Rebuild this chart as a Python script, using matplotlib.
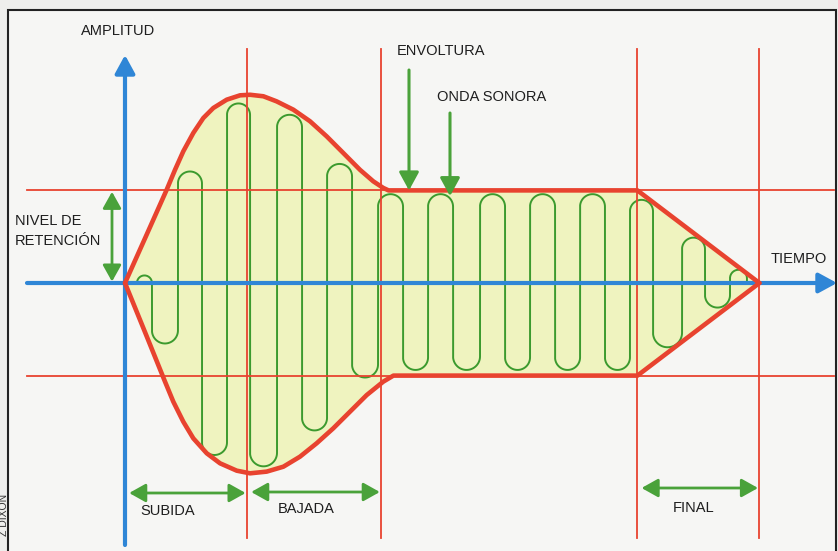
import numpy as np
import matplotlib.pyplot as plt
from matplotlib import font_manager
from matplotlib.patches import Rectangle

# phase limits of the envelope (time units): start, peak, end of decay, end of sustain, end of release
phase_t = [0, 10, 21, 42, 52]
sustain_level = 0.49

# upper / lower edge of the envelope during attack + decay
upper_t = [0, 1.7, 3.42, 4.10, 4.78, 5.60, 6.42, 7.24, 8.34, 9.43, 10.25, 11.34, 12.43, 13.80,
           15.16, 16.53, 17.89, 19.26, 20.35, 21.17, 21.6]
upper_a = [0, 0.245, 0.494, 0.599, 0.697, 0.794, 0.873, 0.926, 0.970, 0.993, 0.996, 0.988, 0.961,
           0.917, 0.856, 0.776, 0.688, 0.599, 0.538, 0.503, 0.49]
lower_t = [0, 1.64, 3.28, 3.96, 4.78, 5.60, 6.70, 7.79, 9.16, 10.25, 11.61, 12.98, 14.34, 15.71,
           17.07, 18.44, 19.81, 21.17, 22.0]
lower_a = [0, -0.26, -0.522, -0.628, -0.734, -0.822, -0.901, -0.954, -0.993, -1.007, -0.998, -0.972,
           -0.919, -0.848, -0.769, -0.681, -0.593, -0.522, -0.49]

# sound wave: x of every vertical stroke and the peak reached by each turn between two strokes
wave_x = [0.98, 2.21, 4.34, 6.31, 8.36, 10.25, 12.46, 14.51, 16.56, 18.61, 20.74, 22.79, 24.84,
          26.89, 29.1, 31.15, 33.2, 35.25, 37.3, 39.34, 41.39, 43.28, 45.66, 47.54, 49.59, 50.98]
wave_peak = [0.04, -0.32, 0.59, -0.91, 0.95, -0.97, 0.89, -0.78, 0.63, -0.50, 0.47, -0.46, 0.47,
             -0.46, 0.47, -0.46, 0.47, -0.46, 0.47, -0.46, 0.44, -0.34, 0.24, -0.13, 0.07]

# labelled spans under the chart (phase index from, phase index to, text)
spans = [(0, 1, 'SUBIDA'), (1, 2, 'BAJADA'), (3, 4, 'FINAL')]

W, H = 838, 551
X0, SX = 125, 12.2     # pixel of t=0, pixels per time unit
Y0, SY = 283, 189      # pixel of amplitude 0, pixels per amplitude unit

RED = '#e8432f'
BLUE = '#2f86d6'
GREEN_WAVE = '#3c9a2e'
GREEN = '#4aa23a'
FILL = '#eff3bf'
INK = '#1e1e1e'

names = {f.name for f in font_manager.fontManager.ttflist}
if 'Liberation Sans Narrow' in names:
    FONT, FS = 'Liberation Sans Narrow', 12.5
else:
    FONT, FS = 'Liberation Sans', 10.5


def t_of(x):
    return (x - X0) / SX


def a_of(y):
    return (Y0 - y) / SY


fig = plt.figure(figsize=(W / 100, H / 100), dpi=100)
fig.patch.set_facecolor('#eeeeec')
ax = fig.add_axes([0, 0, 1, 1])
ax.set_xlim(t_of(0), t_of(W))
ax.set_ylim(a_of(H), a_of(0))
ax.axis('off')

# frame of the illustration
ax.add_patch(Rectangle((8, -20), 828, H - 10 + 20, transform=None, clip_on=False,
                       facecolor='#f6f6f4', edgecolor='#222222', lw=1.5, zorder=0))

# envelope outline and fill
env_up_t = upper_t + [phase_t[3], phase_t[4]]
env_up_a = upper_a + [sustain_level, 0]
env_lo_t = lower_t + [phase_t[3], phase_t[4]]
env_lo_a = lower_a + [-sustain_level, 0]
ax.fill(env_up_t + env_lo_t[::-1], env_up_a + env_lo_a[::-1], color=FILL, lw=0, zorder=1)

# the sound wave, vertical strokes joined by round turns
wx, wy = [0], [0]
for i, p in enumerate(wave_peak):
    x0, x1 = wave_x[i], wave_x[i + 1]
    rx = (x1 - x0) / 2
    ry = rx * SX / SY
    s = np.sign(p)
    cy = p - s * ry
    th = np.linspace(np.pi, 0, 30)
    wx.extend(x0 + rx + rx * np.cos(th))
    wy.extend(cy + s * ry * np.sin(th))
wx += [wave_x[-1], phase_t[4]]
wy += [0, 0]
ax.plot(wx, wy, color=GREEN_WAVE, lw=1.4, zorder=2, solid_joinstyle='round')

# thin red guide lines
for t in phase_t[1:]:
    ax.plot([t, t], [a_of(538), a_of(49)], color=RED, lw=1.3, zorder=3)
for lev in (sustain_level, -sustain_level):
    ax.plot([t_of(27), t_of(834)], [lev, lev], color=RED, lw=1.3, zorder=3)

# blue axes
blue_arrow = dict(arrowstyle='-|>,head_length=0.55,head_width=0.3', color=BLUE, lw=3,
                  shrinkA=0, shrinkB=0, mutation_scale=20)
ax.annotate('', xy=(0, a_of(55)), xytext=(0, a_of(545)), arrowprops=blue_arrow, zorder=4)
ax.annotate('', xy=(t_of(837), 0), xytext=(t_of(27), 0), arrowprops=blue_arrow, zorder=4)

for et, ea in ((env_up_t, env_up_a), (env_lo_t, env_lo_a)):
    ax.plot(et, ea, color=RED, lw=3.3, zorder=5, solid_capstyle='round', solid_joinstyle='round')

# green arrows
two_way = dict(arrowstyle='<|-|>,head_length=0.5,head_width=0.28', color=GREEN, lw=2,
               shrinkA=1, shrinkB=1, mutation_scale=20)
one_way = dict(arrowstyle='-|>,head_length=0.55,head_width=0.3', color=GREEN, lw=2.2,
               shrinkA=0, shrinkB=0, mutation_scale=20)
ax.annotate('', xy=(t_of(112), 0), xytext=(t_of(112), sustain_level), arrowprops=two_way, zorder=6)
ax.annotate('', xy=(t_of(409), sustain_level), xytext=(t_of(409), a_of(70)), arrowprops=one_way, zorder=6)
ax.annotate('', xy=(t_of(450), wave_peak[12] - 0.01), xytext=(t_of(450), a_of(113)),
            arrowprops=one_way, zorder=6)

span_y = [493, 492, 488]
span_lbl = [(168, 511), (306, 509), (694, 508)]
for (i0, i1, txt), y, (lx, ly) in zip(spans, span_y, span_lbl):
    ax.annotate('', xy=(phase_t[i1], a_of(y)), xytext=(phase_t[i0], a_of(y)),
                arrowprops=dict(two_way, shrinkA=3, shrinkB=1), zorder=6)
    fig.text(lx / W, 1 - ly / H, txt, ha='center', va='center', color=INK,
             family=FONT, fontsize=FS)


def label(x, y, s, ha='center', **kw):
    fig.text(x / W, 1 - y / H, s, ha=ha, va='center', color=INK, family=FONT, fontsize=FS, **kw)


label(118, 31, 'AMPLITUD')
label(441, 51, 'ENVOLTURA')
label(492, 97, 'ONDA SONORA')
label(15, 221, 'NIVEL DE', ha='left')
label(15, 241, 'RETENCIÓN', ha='left')
label(799, 259, 'TIEMPO')
fig.text(4 / W, 1 - 515 / H, 'Z DIXON', rotation=90, ha='center', va='center',
         color='#333333', family=FONT, fontsize=7.5)

fig.savefig('out.png', dpi=100, facecolor=fig.get_facecolor())
